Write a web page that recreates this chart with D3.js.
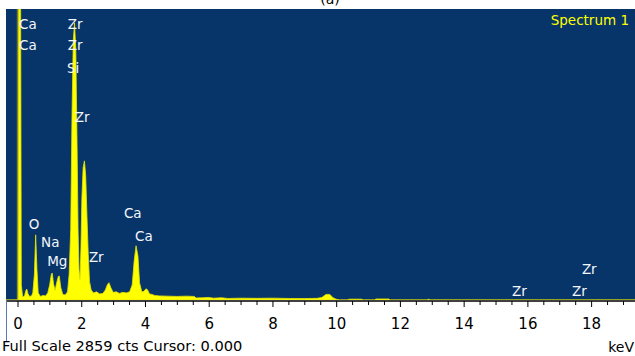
<!DOCTYPE html>
<html>
<head>
<meta charset="utf-8">
<script src="https://cdn.jsdelivr.net/npm/d3@7"></script>
<style>
  html, body { margin: 0; padding: 0; background: #fff; }
  svg { display: block; }
  text { font-family: "DejaVu Sans", sans-serif; }
</style>
</head>
<body>
<div id="chart"></div>
<script>
// spectrum: [keV, counts]
const spectrum = [
  [-0.36, 0], [0.02, 0], [0.04, 4000], [0.09, 4000], [0.12, 150], [0.16, 30],
  [0.22, 40], [0.26, 90], [0.29, 108], [0.33, 60], [0.38, 35], [0.44, 40],
  [0.48, 70], [0.53, 250], [0.57, 640], [0.61, 300], [0.65, 70], [0.72, 35],
  [0.8, 45], [0.88, 40], [0.95, 70], [1.01, 150], [1.06, 250], [1.09, 265],
  [1.13, 160], [1.18, 95], [1.23, 170], [1.28, 230], [1.31, 236], [1.36, 120],
  [1.42, 55], [1.5, 50], [1.57, 80], [1.62, 250], [1.67, 700], [1.71, 1800],
  [1.75, 2550], [1.79, 2721], [1.83, 2450], [1.87, 1500], [1.9, 700], [1.93, 300],
  [1.96, 200], [1.99, 500], [2.02, 1000], [2.06, 1300], [2.1, 1367], [2.14, 1220],
  [2.18, 820], [2.22, 450], [2.26, 180], [2.31, 100], [2.38, 70], [2.48, 80],
  [2.58, 60], [2.68, 65], [2.76, 100], [2.82, 150], [2.87, 170], [2.93, 120],
  [3.0, 75], [3.1, 80], [3.2, 65], [3.3, 75], [3.42, 70], [3.52, 80],
  [3.6, 150], [3.66, 380], [3.72, 533], [3.78, 430], [3.83, 170], [3.9, 80],
  [3.97, 85], [4.03, 110], [4.08, 100], [4.14, 60], [4.22, 55], [4.3, 45],
  [4.45, 40], [4.7, 38], [5.0, 35], [5.3, 38], [5.55, 35], [5.6, 20],
  [5.8, 22], [6.0, 25], [6.15, 18], [6.4, 22], [6.6, 15], [7.0, 18],
  [7.5, 16], [8.0, 18], [8.5, 15], [9.0, 14], [9.4, 16], [9.55, 25],
  [9.68, 55], [9.8, 55], [9.9, 22], [10.0, 8], [10.1, 0], [10.35, 0],
  [10.4, 8], [10.8, 8], [10.85, 0], [11.2, 0], [11.25, 10], [11.65, 10],
  [11.7, 0], [12.85, 0], [12.9, 8], [12.95, 0], [19.4, 0]
];

// peak labels: [element, keV, counts]
const peakLabels = [
  ['Ca', 0.05, 2663], ['Ca', 0.05, 2456],
  ['Zr', 1.58, 2663], ['Zr', 1.58, 2456], ['Si', 1.55, 2230], ['Zr', 1.8, 1749],
  ['O', 0.35, 698], ['Na', 0.74, 521], ['Mg', 0.93, 334], ['Zr', 2.24, 373],
  ['Ca', 3.34, 806], ['Ca', 3.69, 580],
  ['Zr', 15.52, 39], ['Zr', 17.4, 39], ['Zr', 17.71, 255]
];

const tickValues = d3.range(0, 19.5, 0.5);
const tickLabels = [0, 2, 4, 6, 8, 10, 12, 14, 16, 18];
const fullScale = 2859;
const cursor = 0;
const spectrumName = 'Spectrum 1';

const W = 635, H = 356;
const margin = { top: 9, right: 0, bottom: 56, left: 6 };
const plotW = W - margin.left - margin.right;
const plotH = H - margin.top - margin.bottom;

const svg = d3.select('#chart').append('svg')
  .attr('width', W)
  .attr('height', H);

// title, cut at the top edge as in the source picture
svg.append('text')
  .attr('x', 330).attr('y', 4)
  .attr('text-anchor', 'middle')
  .style('font-size', '14px')
  .attr('fill', '#000')
  .text('(a)');

const g = svg.append('g')
  .attr('transform', `translate(${margin.left},${margin.top})`);

const x = d3.scaleLinear().domain([-0.361, 19.377]).range([0, plotW]);
const y = d3.scaleLinear().domain([0, fullScale]).range([plotH, 0]);

g.append('clipPath').attr('id', 'clip')
  .append('rect').attr('width', plotW).attr('height', plotH);

g.append('rect')
  .attr('width', plotW)
  .attr('height', plotH)
  .attr('fill', '#07356a');

// cursor line
g.append('line')
  .attr('x1', x(cursor)).attr('x2', x(cursor))
  .attr('y1', 0).attr('y2', plotH)
  .attr('stroke', '#6f7a3e')
  .attr('stroke-width', 1.5);

const area = d3.area()
  .x(d => x(d[0]))
  .y0(plotH)
  .y1(d => y(d[1]));

g.append('path')
  .datum(spectrum)
  .attr('clip-path', 'url(#clip)')
  .attr('d', area)
  .attr('fill', '#ffff00')
  .attr('stroke', '#e3e300')
  .attr('stroke-width', 0.8);

g.selectAll('.peak')
  .data(peakLabels)
  .enter().append('text')
  .attr('class', 'peak')
  .attr('x', d => x(d[1]))
  .attr('y', d => y(d[2]))
  .attr('fill', '#f4f6fa')
  .style('font-size', '13.5px')
  .text(d => d[0]);

g.append('text')
  .attr('x', plotW - 6).attr('y', 16)
  .attr('text-anchor', 'end')
  .attr('fill', '#ffff00')
  .style('font-size', '13.5px')
  .text(spectrumName);

// x axis
const axis = d3.axisBottom(x)
  .tickValues(tickValues)
  .tickSize(4)
  .tickFormat(d => tickLabels.includes(d) ? d : '');

const ax = g.append('g')
  .attr('transform', `translate(0,${plotH + 1})`)
  .call(axis);

ax.select('.domain').remove();
ax.append('line')
  .attr('x1', 0).attr('x2', plotW)
  .attr('y1', 0).attr('y2', 0)
  .attr('stroke', '#000').attr('stroke-width', 1.5);
ax.selectAll('.tick line')
  .attr('stroke', '#000')
  .attr('y2', d => tickLabels.includes(d) ? 6 : 4);
ax.selectAll('.tick text')
  .attr('y', 19)
  .attr('dy', 0)
  .attr('fill', '#000')
  .style('font-family', '"DejaVu Sans", sans-serif')
  .style('font-size', '15px')
  .attr('transform', 'translate(0,9)');

// left edge line below the plot
svg.append('line')
  .attr('x1', margin.left + 0.5).attr('x2', margin.left + 0.5)
  .attr('y1', margin.top + plotH).attr('y2', H - 14)
  .attr('stroke', '#5a7bb0');

svg.append('text')
  .attr('x', 2).attr('y', 351)
  .attr('fill', '#000')
  .style('font-size', '14.6px')
  .text(`Full Scale ${fullScale} cts Cursor: ${cursor.toFixed(3)}`);

svg.append('text')
  .attr('x', W - 1).attr('y', 352)
  .attr('text-anchor', 'end')
  .attr('fill', '#000')
  .style('font-size', '14px')
  .text('keV');
</script>
</body>
</html>
